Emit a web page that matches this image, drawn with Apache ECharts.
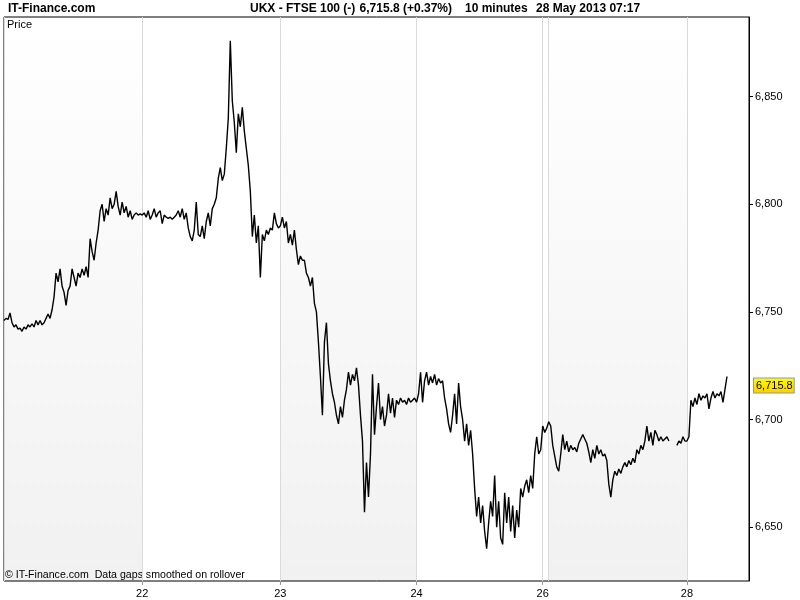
<!DOCTYPE html>
<html><head><meta charset="utf-8">
<script src="https://cdn.jsdelivr.net/npm/echarts@6/dist/echarts.min.js"></script>
<style>html,body{margin:0;padding:0;background:#fff}#c{width:800px;height:600px}</style>
</head><body><div id="c"></div>
<script>
// ---- data (10-minute closes) ----
const days = ['21', '22', '23', '24', '26', '27', '28'];
const d21 = [6746, 6747, 6746.5, 6749.5, 6745, 6743, 6744, 6742, 6742.5, 6741, 6743, 6742, 6744, 6743, 6744.5, 6743, 6746, 6744, 6746, 6744, 6745, 6747, 6749, 6747, 6751, 6757, 6768, 6764, 6770, 6762, 6759, 6753, 6760, 6762, 6770, 6766, 6762, 6768, 6766, 6770, 6767, 6771, 6766, 6784, 6778, 6774, 6782, 6788, 6797, 6800, 6792, 6798, 6795, 6803, 6798, 6800, 6806, 6799, 6795, 6801, 6796, 6799, 6794, 6797, 6793, 6795, 6796, 6795, 6795.5];
const d22 = [6795, 6796, 6794, 6797, 6793, 6795, 6798, 6794, 6796, 6797, 6791, 6795, 6794, 6793.5, 6794, 6793, 6794, 6795, 6797, 6794, 6798, 6793, 6796, 6789, 6785, 6783, 6788, 6801, 6786, 6785, 6790, 6784, 6792, 6796, 6790, 6798, 6800, 6803, 6812, 6817, 6811, 6814, 6826, 6840, 6876, 6848, 6838, 6824, 6842, 6836, 6845, 6834, 6826, 6818, 6806, 6785, 6795, 6782, 6790, 6766, 6786, 6783, 6788, 6786, 6789, 6788, 6796, 6791, 6789];
const d23 = [6790, 6794, 6789, 6792, 6782, 6786, 6781, 6788, 6779, 6772, 6776, 6774, 6774, 6768, 6766, 6762, 6766, 6754, 6750, 6736, 6720, 6702, 6736, 6745, 6726, 6718, 6712, 6708, 6702, 6698, 6706, 6701, 6709, 6714, 6722, 6716, 6721, 6718, 6724, 6716, 6702, 6690, 6657, 6680, 6664, 6684, 6721, 6693, 6706, 6717, 6700, 6706, 6697, 6702, 6712, 6703, 6710, 6701, 6709, 6707, 6710, 6708, 6709, 6707, 6710, 6708, 6709, 6710];
const d24 = [6708, 6712, 6722, 6708, 6718, 6722, 6716, 6720, 6717, 6721, 6716, 6719, 6717, 6718, 6710, 6705, 6698, 6694, 6702, 6712, 6698, 6717, 6706, 6700, 6690, 6698, 6688, 6695, 6684, 6668, 6655, 6664, 6652, 6660, 6648, 6640, 6652, 6662, 6655, 6674, 6650, 6662, 6645, 6642, 6666, 6652, 6664, 6648, 6660, 6645, 6658, 6650, 6668, 6664, 6669, 6672, 6666, 6674, 6668, 6684, 6692, 6684, 6686];
const d26 = [6697, 6694, 6696];
const d27 = [6699, 6697, 6688, 6683, 6678, 6676, 6684, 6693, 6686, 6690, 6685, 6688, 6686, 6687, 6685, 6689, 6691, 6693, 6691, 6689, 6685, 6680, 6686, 6682, 6688, 6684, 6686, 6683, 6684, 6681, 6670, 6664, 6672, 6676, 6674, 6677, 6675, 6678, 6680, 6678, 6681, 6679, 6682, 6680, 6686, 6684, 6688, 6686, 6690, 6697, 6690, 6694, 6688, 6695, 6693, 6690, 6692, 6690, 6691, 6692, 6690, null, null, null, 6688, 6690, 6689, 6692, 6690];
const d28 = [6690, 6692, 6709, 6706, 6710, 6707, 6712, 6709, 6711, 6710, 6712, 6705, 6710, 6713, 6710, 6712, 6711, 6713, 6708, 6714, 6720];
const slotsAfterLast = 11;            // empty 10-minute slots still to come on the 28th
const tickLabels = ['22', '23', '24', '26', '28'];
const shadedDays = ['21', '23', '27'];
const yTicks = [6650, 6700, 6750, 6800, 6850];
const yMin = 6625, yMax = 6887;
const lastPrice = 6715.8;
const changePct = '+0.37%';
const siteName = 'IT-Finance.com';
const symbolName = 'UKX - FTSE 100 (-)';
const period = '10 minutes';
const stamp = '28 May 2013 07:17';
const footer = '\u00A9 IT-Finance.com  Data gaps smoothed on rollover';
const panelTitle = 'Price';

// ---- build ----
const dayData = [d21, d22, d23, d24, d26, d27, d28];
const categories = [], values = [];
days.forEach((d, k) => dayData[k].forEach((v, j) => { categories.push(d + '-' + j); values.push(v); }));
for (let j = 0; j < slotsAfterLast; j++) categories.push('28-' + (d28.length + j));

function fmt(v) { const s = String(v).split('.'); s[0] = s[0].replace(/\B(?=(\d{3})+(?!\d))/g, ','); return s.join('.'); }
const isDayStart = (v) => /-0$/.test(v);
const dayOf = (v) => v.split('-')[0];
const FONT = '"Liberation Sans", Arial, sans-serif';

const bandColor = { type: 'linear', x: 0, y: 0, x2: 0, y2: 1,
  colorStops: [{ offset: 0, color: '#ffffff' }, { offset: 1, color: '#f1f1f1' }] };

const chart = echarts.init(document.getElementById('c'), null, { renderer: 'canvas' });
chart.setOption({
  animation: false,
  backgroundColor: '#ffffff',
  textStyle: { fontFamily: FONT },
  grid: { left: 4, right: 51, top: 17, bottom: 19, show: true, borderColor: '#000', borderWidth: 1, backgroundColor: 'transparent' },
  xAxis: {
    type: 'category', data: categories, boundaryGap: false,
    axisLine: { show: false },
    axisTick: { show: true, length: 4, lineStyle: { color: '#999' },
      interval: (i, v) => isDayStart(v) && tickLabels.includes(dayOf(v)) },
    axisLabel: { show: true, color: '#000', fontSize: 11, fontFamily: FONT, margin: 7,
      interval: (i, v) => isDayStart(v) && tickLabels.includes(dayOf(v)),
      formatter: (v) => dayOf(v) },
    splitLine: { show: true, lineStyle: { color: '#dadada', width: 1 },
      interval: (i, v) => isDayStart(v) }
  },
  yAxis: {
    type: 'value', position: 'right', min: yMin, max: yMax, scale: true,
    axisLine: { show: true, lineStyle: { color: '#000' } },
    axisTick: { show: true, length: 4, lineStyle: { color: '#000' }, customValues: yTicks },
    axisLabel: { show: true, color: '#000', fontSize: 11, fontFamily: FONT, margin: 6, customValues: yTicks, formatter: (v) => fmt(v) },
    splitLine: { show: false }
  },
  series: [{
    type: 'line', data: values, showSymbol: false, symbol: 'none', connectNulls: false,
    lineStyle: { color: '#000', width: 1.4 }, z: 3,
    markArea: {
      silent: true, z: -1,
      itemStyle: { color: bandColor, borderWidth: 0 },
      label: { show: false },
      data: shadedDays.map(d => [{ xAxis: d + '-0' }, { xAxis: days[days.indexOf(d) + 1] + '-0' }])
    },
    markLine: {
      silent: true, symbol: 'none', z: 10,
      lineStyle: { width: 0, color: 'rgba(0,0,0,0)' },
      label: {
        show: true, position: 'end', distance: 5, formatter: () => fmt(lastPrice),
        color: '#000', fontSize: 11, fontFamily: FONT, lineHeight: 12,
        backgroundColor: { type: 'linear', x: 0, y: 0, x2: 0, y2: 1,
          colorStops: [{ offset: 0, color: '#ffff00' }, { offset: 1, color: '#ffcc00' }] },
        borderColor: '#8a9bb0', borderWidth: 1, padding: [1, 1, 1, 2]
      },
      data: [{ yAxis: lastPrice }]
    }
  }],
  graphic: [
    { type: 'text', x: 8, y: 9, silent: true, style: { text: siteName, font: 'bold 12px ' + FONT, fill: '#000', verticalAlign: 'middle' } },
    { type: 'text', x: 250, y: 9, silent: true, style: { text: symbolName, font: 'bold 12px ' + FONT, fill: '#000', verticalAlign: 'middle' } },
    { type: 'text', x: 452, y: 9, silent: true, style: { text: fmt(lastPrice) + ' (' + changePct + ')', font: 'bold 12px ' + FONT, fill: '#000', align: 'right', verticalAlign: 'middle' } },
    { type: 'text', x: 465, y: 9, silent: true, style: { text: period, font: 'bold 12px ' + FONT, fill: '#000', verticalAlign: 'middle' } },
    { type: 'text', x: 536, y: 9, silent: true, style: { text: stamp, font: 'bold 12px ' + FONT, fill: '#000', verticalAlign: 'middle' } },
    { type: 'text', x: 7, y: 25, silent: true, style: { text: panelTitle, font: '11px ' + FONT, fill: '#000', verticalAlign: 'middle' } },
    { type: 'text', x: 5, y: 575, silent: true, style: { text: footer, font: '10.6px ' + FONT, fill: '#000', verticalAlign: 'middle' } }
  ]
});
</script>
</body></html>
